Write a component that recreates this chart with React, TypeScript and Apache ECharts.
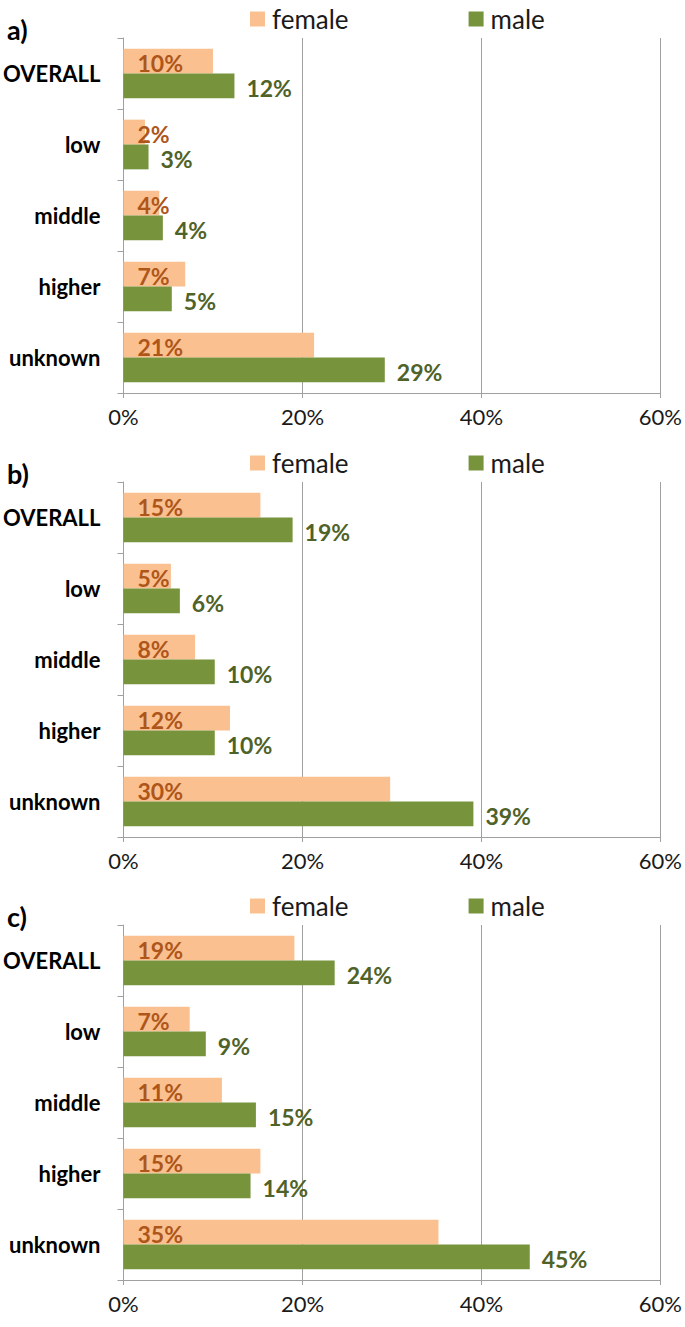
import React, { useEffect, useRef } from "react";
import * as echarts from "echarts";

const categories = ["OVERALL", "low", "middle", "higher", "unknown"];
const panelLabels = ["a)", "b)", "c)"];
const seriesNames = ["female", "male"];

const femaleA = [10.0, 2.4, 4.0, 6.9, 21.3];
const maleA = [12.4, 2.8, 4.4, 5.4, 29.2];
const femaleB = [15.3, 5.3, 8.0, 11.9, 29.8];
const maleB = [18.9, 6.3, 10.2, 10.2, 39.1];
const femaleC = [19.1, 7.4, 11.0, 15.3, 35.2];
const maleC = [23.6, 9.2, 14.8, 14.2, 45.4];

const xTicks = [0, 20, 40, 60];

const panels = [
  { female: femaleA, male: maleA },
  { female: femaleB, male: maleB },
  { female: femaleC, male: maleC },
];

const FONT = "Lato, 'Open Sans', sans-serif";
const FEMALE = "#FAC090";
const MALE = "#77933C";
const FEMALE_LABEL = "#AE561A";
const MALE_LABEL = "#4F6228";
const GRID = "#A0A0A0";

const PANEL_TOPS = [38, 482, 925];
const PLOT_H = 355;

export default function App() {
  const ref = useRef<HTMLDivElement>(null);
  useEffect(() => {
    document.body.style.margin = "0";
    if (!ref.current) return;
    const chart = echarts.init(ref.current, null, { renderer: "svg" });
    const grids: any[] = [];
    const xAxes: any[] = [];
    const yAxes: any[] = [];
    const series: any[] = [];
    const legends: any[] = [];
    const graphics: any[] = [];
    panels.forEach((p, i) => {
      const top = PANEL_TOPS[i];
      grids.push({ left: 123, right: 22, top, height: PLOT_H, containLabel: false });
      xAxes.push({
        type: "value",
        gridIndex: i,
        min: xTicks[0],
        max: xTicks[xTicks.length - 1],
        interval: 20,
        axisLine: { show: true, lineStyle: { color: GRID, width: 1 } },
        axisTick: { show: true, length: 5, lineStyle: { color: GRID } },
        splitLine: { show: true, lineStyle: { color: GRID, width: 1 } },
        axisLabel: {
          formatter: (v: number) => v + "%",
          color: "#1a1a1a",
          fontFamily: FONT,
          fontSize: 22,
          margin: 12,
        },
      });
      yAxes.push({
        type: "category",
        gridIndex: i,
        data: categories,
        inverse: true,
        axisLine: { show: true, lineStyle: { color: GRID, width: 1 } },
        axisTick: { show: true, length: 6, lineStyle: { color: GRID } },
        splitLine: { show: false },
        axisLabel: {
          color: "#000",
          fontFamily: FONT,
          fontWeight: "bold",
          fontSize: 22,
          margin: 23,
        },
      });
      series.push({
        name: seriesNames[0],
        type: "bar",
        xAxisIndex: i,
        yAxisIndex: i,
        data: p.female,
        barGap: "0%",
        barCategoryGap: "30%",
        itemStyle: { color: FEMALE },
        label: {
          show: true,
          position: "insideLeft",
          distance: 14,
          offset: [0, 2],
          formatter: (d: any) => Math.round(d.value) + "%",
          color: FEMALE_LABEL,
          fontFamily: FONT,
          fontWeight: "bold",
          fontSize: 23,
        },
      });
      series.push({
        name: seriesNames[1],
        type: "bar",
        xAxisIndex: i,
        yAxisIndex: i,
        data: p.male,
        barGap: "0%",
        barCategoryGap: "30%",
        itemStyle: { color: MALE },
        label: {
          show: true,
          position: "right",
          distance: 12,
          offset: [0, 2],
          formatter: (d: any) => Math.round(d.value) + "%",
          color: MALE_LABEL,
          fontFamily: FONT,
          fontWeight: "bold",
          fontSize: 23,
        },
      });
      legends.push({
        data: seriesNames,
        left: 245,
        top: top - 37,
        itemGap: 120,
        itemWidth: 15,
        itemHeight: 15,
        icon: "rect",
        selectedMode: false,
        textStyle: { fontFamily: FONT, fontSize: 26, color: "#1a1a1a", padding: [0, 0, 0, 2] },
      });
      graphics.push({
        type: "text",
        left: 7,
        top: top - 22,
        style: {
          text: panelLabels[i],
          font: `bold 27px ${FONT}`,
          fill: "#000",
          textVerticalAlign: "middle",
        },
      });
    });
    chart.setOption({
      animation: false,
      grid: grids,
      xAxis: xAxes,
      yAxis: yAxes,
      series,
      legend: legends,
      graphic: graphics,
    });
    return () => chart.dispose();
  }, []);
  return <div ref={ref} style={{ width: 685, height: 1327 }} />;
}
